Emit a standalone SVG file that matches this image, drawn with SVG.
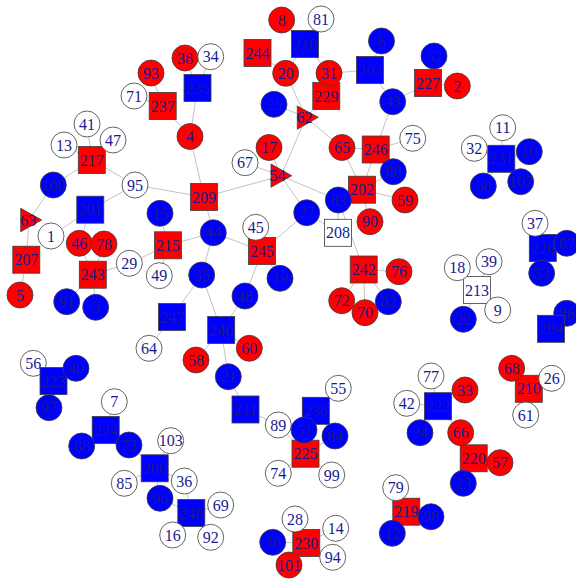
<svg xmlns="http://www.w3.org/2000/svg" width="576" height="579" viewBox="0 0 576 579">
<style>
.e line{stroke:#c4c4c4;stroke-width:1}
circle,rect,polygon{stroke:#3c3c3c;stroke-width:0.8}
.r{fill:#ff0000}.b{fill:#0000ff}.w{fill:#ffffff}
text{font-family:"Liberation Serif","Times New Roman",serif;font-size:16px;fill:#1a1a90;text-anchor:middle}
</style>
<g class="e" id="edges">
<line x1="87" y1="124" x2="91.8" y2="160"/>
<line x1="64" y1="145" x2="91.8" y2="160"/>
<line x1="113" y1="140" x2="91.8" y2="160"/>
<line x1="53.3" y1="185" x2="91.8" y2="160"/>
<line x1="135" y1="185" x2="91.8" y2="160"/>
<line x1="135" y1="185" x2="204" y2="197"/>
<line x1="135" y1="185" x2="90.3" y2="209.7"/>
<line x1="51" y1="236" x2="90.3" y2="209.7"/>
<line x1="79.3" y1="243.3" x2="90.3" y2="209.7"/>
<line x1="53.3" y1="185" x2="29" y2="220"/>
<line x1="29" y1="220" x2="26.3" y2="259.7"/>
<line x1="26.3" y1="259.7" x2="20" y2="295"/>
<line x1="79.3" y1="243.3" x2="92.8" y2="274.7"/>
<line x1="104" y1="244" x2="92.8" y2="274.7"/>
<line x1="129.3" y1="263.3" x2="92.8" y2="274.7"/>
<line x1="129.3" y1="263.3" x2="168" y2="245.3"/>
<line x1="160" y1="213.3" x2="168" y2="245.3"/>
<line x1="159.3" y1="275.7" x2="168" y2="245.3"/>
<line x1="213.3" y1="232.7" x2="168" y2="245.3"/>
<line x1="66.7" y1="301.7" x2="92.8" y2="274.7"/>
<line x1="95.7" y1="307.3" x2="92.8" y2="274.7"/>
<line x1="151" y1="73" x2="162.7" y2="106"/>
<line x1="134" y1="96" x2="162.7" y2="106"/>
<line x1="190" y1="136.5" x2="162.7" y2="106"/>
<line x1="185" y1="58" x2="197.5" y2="88"/>
<line x1="210.7" y1="56.7" x2="197.5" y2="88"/>
<line x1="190" y1="136.5" x2="197.5" y2="88"/>
<line x1="190" y1="136.5" x2="204" y2="197"/>
<line x1="213.3" y1="232.7" x2="204" y2="197"/>
<line x1="281" y1="176" x2="204" y2="197"/>
<line x1="213.3" y1="232.7" x2="201.7" y2="275"/>
<line x1="213.3" y1="232.7" x2="262" y2="251"/>
<line x1="201.7" y1="275" x2="172" y2="317"/>
<line x1="201.7" y1="275" x2="221.2" y2="330"/>
<line x1="172" y1="317" x2="149" y2="348.3"/>
<line x1="221.2" y1="330" x2="245" y2="296"/>
<line x1="221.2" y1="330" x2="228.3" y2="376.7"/>
<line x1="221.2" y1="330" x2="196" y2="360"/>
<line x1="221.2" y1="330" x2="249.3" y2="348.3"/>
<line x1="228.3" y1="376.7" x2="245.5" y2="409.5"/>
<line x1="245.5" y1="409.5" x2="278.3" y2="425"/>
<line x1="278.3" y1="425" x2="305.5" y2="453.7"/>
<line x1="304" y1="430" x2="305.5" y2="453.7"/>
<line x1="335" y1="436" x2="305.5" y2="453.7"/>
<line x1="278.3" y1="473.3" x2="305.5" y2="453.7"/>
<line x1="331.7" y1="475" x2="305.5" y2="453.7"/>
<line x1="304" y1="430" x2="315.8" y2="410.8"/>
<line x1="335" y1="436" x2="315.8" y2="410.8"/>
<line x1="338.3" y1="388.3" x2="315.8" y2="410.8"/>
<line x1="255.7" y1="227.3" x2="262" y2="251"/>
<line x1="280" y1="278.3" x2="262" y2="251"/>
<line x1="245" y1="296" x2="262" y2="251"/>
<line x1="306.7" y1="212.7" x2="262" y2="251"/>
<line x1="281" y1="176" x2="306.7" y2="212.7"/>
<line x1="281" y1="176" x2="338.3" y2="200"/>
<line x1="281" y1="176" x2="306" y2="117.5"/>
<line x1="281" y1="176" x2="269" y2="147.5"/>
<line x1="281" y1="176" x2="245" y2="162.7"/>
<line x1="306" y1="117.5" x2="285.7" y2="73.3"/>
<line x1="306" y1="117.5" x2="274" y2="104.3"/>
<line x1="306" y1="117.5" x2="342" y2="147.5"/>
<line x1="306" y1="117.5" x2="326.3" y2="96"/>
<line x1="305" y1="44" x2="285.7" y2="73.3"/>
<line x1="305" y1="44" x2="329" y2="73.3"/>
<line x1="305" y1="44" x2="281.7" y2="20"/>
<line x1="305" y1="44" x2="321" y2="19"/>
<line x1="257.5" y1="53" x2="285.7" y2="73.3"/>
<line x1="329" y1="73.3" x2="370" y2="70"/>
<line x1="329" y1="73.3" x2="326.3" y2="96"/>
<line x1="370" y1="70" x2="381.5" y2="41"/>
<line x1="370" y1="70" x2="392.7" y2="101.7"/>
<line x1="392.7" y1="101.7" x2="428" y2="83"/>
<line x1="392.7" y1="101.7" x2="375.7" y2="149.5"/>
<line x1="428" y1="83" x2="434" y2="56"/>
<line x1="428" y1="83" x2="457.3" y2="86"/>
<line x1="375.7" y1="149.5" x2="412.7" y2="138.3"/>
<line x1="375.7" y1="149.5" x2="342" y2="147.5"/>
<line x1="375.7" y1="149.5" x2="393.3" y2="171.7"/>
<line x1="375.7" y1="149.5" x2="362" y2="189.7"/>
<line x1="342" y1="147.5" x2="362" y2="189.7"/>
<line x1="362" y1="189.7" x2="338.3" y2="200"/>
<line x1="362" y1="189.7" x2="405" y2="200"/>
<line x1="362" y1="189.7" x2="370" y2="221.7"/>
<line x1="362" y1="189.7" x2="393.3" y2="171.7"/>
<line x1="338.3" y1="200" x2="363.7" y2="269.5"/>
<line x1="338" y1="232.8" x2="306.7" y2="212.7"/>
<line x1="338" y1="232.8" x2="338.3" y2="200"/>
<line x1="363.7" y1="269.5" x2="341.7" y2="300.7"/>
<line x1="363.7" y1="269.5" x2="365" y2="312.7"/>
<line x1="363.7" y1="269.5" x2="388.3" y2="301.7"/>
<line x1="363.7" y1="269.5" x2="399" y2="271.7"/>
<line x1="501.3" y1="158.8" x2="502.7" y2="127.7"/>
<line x1="501.3" y1="158.8" x2="474.3" y2="148.3"/>
<line x1="501.3" y1="158.8" x2="529.3" y2="151.7"/>
<line x1="501.3" y1="158.8" x2="483.3" y2="186"/>
<line x1="501.3" y1="158.8" x2="520.7" y2="181.7"/>
<line x1="542.8" y1="248" x2="535" y2="223.3"/>
<line x1="542.8" y1="248" x2="566.7" y2="243.3"/>
<line x1="542.8" y1="248" x2="541.7" y2="273.3"/>
<line x1="477" y1="290" x2="457.3" y2="267.7"/>
<line x1="477" y1="290" x2="489" y2="261.7"/>
<line x1="477" y1="290" x2="497.7" y2="310"/>
<line x1="477" y1="290" x2="463.3" y2="319.3"/>
<line x1="551" y1="328.8" x2="566.7" y2="313.3"/>
<line x1="528.8" y1="388.8" x2="511.7" y2="368.3"/>
<line x1="528.8" y1="388.8" x2="551.7" y2="378.3"/>
<line x1="528.8" y1="388.8" x2="525.7" y2="415"/>
<line x1="438" y1="406.2" x2="431" y2="376"/>
<line x1="438" y1="406.2" x2="406.7" y2="403.3"/>
<line x1="438" y1="406.2" x2="465" y2="390"/>
<line x1="438" y1="406.2" x2="420" y2="432.7"/>
<line x1="438" y1="406.2" x2="460.7" y2="432.7"/>
<line x1="473.7" y1="458.3" x2="460.7" y2="432.7"/>
<line x1="473.7" y1="458.3" x2="500" y2="462.7"/>
<line x1="473.7" y1="458.3" x2="463.3" y2="483.3"/>
<line x1="406.3" y1="511.7" x2="395.7" y2="487.7"/>
<line x1="406.3" y1="511.7" x2="431" y2="516.7"/>
<line x1="406.3" y1="511.7" x2="392.3" y2="533.3"/>
<line x1="306.3" y1="543" x2="295" y2="519"/>
<line x1="306.3" y1="543" x2="335.7" y2="528.3"/>
<line x1="306.3" y1="543" x2="272.7" y2="542.3"/>
<line x1="306.3" y1="543" x2="332.7" y2="557.3"/>
<line x1="306.3" y1="543" x2="289" y2="565"/>
<line x1="191.3" y1="513" x2="184.3" y2="481"/>
<line x1="191.3" y1="513" x2="172.7" y2="535"/>
<line x1="191.3" y1="513" x2="220.7" y2="505"/>
<line x1="191.3" y1="513" x2="210.7" y2="537.3"/>
<line x1="191.3" y1="513" x2="160" y2="498.3"/>
<line x1="154.7" y1="468.3" x2="170.7" y2="440.7"/>
<line x1="154.7" y1="468.3" x2="129" y2="445"/>
<line x1="154.7" y1="468.3" x2="124.3" y2="483.3"/>
<line x1="154.7" y1="468.3" x2="160" y2="498.3"/>
<line x1="154.7" y1="468.3" x2="184.3" y2="481"/>
<line x1="105.7" y1="430" x2="114.3" y2="401.7"/>
<line x1="105.7" y1="430" x2="81.7" y2="446"/>
<line x1="105.7" y1="430" x2="129" y2="445"/>
<line x1="53.5" y1="381" x2="33.3" y2="363.3"/>
<line x1="53.5" y1="381" x2="76" y2="368.3"/>
<line x1="53.5" y1="381" x2="49" y2="407.7"/>
</g>
<g id="n86"><circle class="b" cx="566.7" cy="313.3" r="13"/><text x="566.7" y="318.8">86</text></g>
<g id="n56"><circle class="w" cx="33.3" cy="363.3" r="13"/><text x="33.3" y="368.8">56</text></g>
<g id="n57"><circle class="r" cx="500" cy="462.7" r="13"/><text x="500" y="468.2">57</text></g>
<g id="n237"><rect class="r" x="149.2" y="92.5" width="27" height="27"/><text x="162.7" y="111.5">237</text></g>
<g id="n235"><rect class="b" x="184" y="74.5" width="27" height="27"/><text x="197.5" y="93.5">235</text></g>
<g id="n218"><rect class="b" x="291.5" y="30.5" width="27" height="27"/><text x="305" y="49.5">218</text></g>
<g id="n244"><rect class="r" x="244" y="39.5" width="27" height="27"/><text x="257.5" y="58.5">244</text></g>
<g id="n203"><rect class="b" x="356.5" y="56.5" width="27" height="27"/><text x="370" y="75.5">203</text></g>
<g id="n229"><rect class="r" x="312.8" y="82.5" width="27" height="27"/><text x="326.3" y="101.5">229</text></g>
<g id="n246"><rect class="r" x="362.2" y="136" width="27" height="27"/><text x="375.7" y="155">246</text></g>
<g id="n227"><rect class="r" x="414.5" y="69.5" width="27" height="27"/><text x="428" y="88.5">227</text></g>
<g id="n217"><rect class="r" x="78.3" y="146.5" width="27" height="27"/><text x="91.8" y="165.5">217</text></g>
<g id="n201"><rect class="b" x="76.8" y="196.2" width="27" height="27"/><text x="90.3" y="215.2">201</text></g>
<g id="n215"><rect class="r" x="154.5" y="231.8" width="27" height="27"/><text x="168" y="250.8">215</text></g>
<g id="n207"><rect class="r" x="12.8" y="246.2" width="27" height="27"/><text x="26.3" y="265.2">207</text></g>
<g id="n243"><rect class="r" x="79.3" y="261.2" width="27" height="27"/><text x="92.8" y="280.2">243</text></g>
<g id="n209"><rect class="r" x="190.5" y="183.5" width="27" height="27"/><text x="204" y="202.5">209</text></g>
<g id="n202"><rect class="r" x="348.5" y="176.2" width="27" height="27"/><text x="362" y="195.2">202</text></g>
<g id="n208"><rect class="w" x="324.5" y="219.3" width="27" height="27"/><text x="338" y="238.3">208</text></g>
<g id="n245"><rect class="r" x="248.5" y="237.5" width="27" height="27"/><text x="262" y="256.5">245</text></g>
<g id="n242"><rect class="r" x="350.2" y="256" width="27" height="27"/><text x="363.7" y="275">242</text></g>
<g id="n231"><rect class="b" x="487.8" y="145.3" width="27" height="27"/><text x="501.3" y="164.3">231</text></g>
<g id="n226"><rect class="b" x="529.3" y="234.5" width="27" height="27"/><text x="542.8" y="253.5">226</text></g>
<g id="n213"><rect class="w" x="463.5" y="276.5" width="27" height="27"/><text x="477" y="295.5">213</text></g>
<g id="n247"><rect class="b" x="158.5" y="303.5" width="27" height="27"/><text x="172" y="322.5">247</text></g>
<g id="n223"><rect class="b" x="40" y="367.5" width="27" height="27"/><text x="53.5" y="386.5">223</text></g>
<g id="n224"><rect class="b" x="92.2" y="416.5" width="27" height="27"/><text x="105.7" y="435.5">224</text></g>
<g id="n240"><rect class="b" x="207.7" y="316.5" width="27" height="27"/><text x="221.2" y="335.5">240</text></g>
<g id="n211"><rect class="b" x="232" y="396" width="27" height="27"/><text x="245.5" y="415">211</text></g>
<g id="n238"><rect class="b" x="302.3" y="397.3" width="27" height="27"/><text x="315.8" y="416.3">238</text></g>
<g id="n204"><rect class="b" x="537.5" y="315.3" width="27" height="27"/><text x="551" y="334.3">204</text></g>
<g id="n210"><rect class="r" x="515.3" y="375.3" width="27" height="27"/><text x="528.8" y="394.3">210</text></g>
<g id="n222"><rect class="b" x="424.5" y="392.7" width="27" height="27"/><text x="438" y="411.7">222</text></g>
<g id="n220"><rect class="r" x="460.2" y="444.8" width="27" height="27"/><text x="473.7" y="463.8">220</text></g>
<g id="n219"><rect class="r" x="392.8" y="498.2" width="27" height="27"/><text x="406.3" y="517.2">219</text></g>
<g id="n206"><rect class="b" x="141.2" y="454.8" width="27" height="27"/><text x="154.7" y="473.8">206</text></g>
<g id="n248"><rect class="b" x="177.8" y="499.5" width="27" height="27"/><text x="191.3" y="518.5">248</text></g>
<g id="n225"><rect class="r" x="292" y="440.2" width="27" height="27"/><text x="305.5" y="459.2">225</text></g>
<g id="n230"><rect class="r" x="292.8" y="529.5" width="27" height="27"/><text x="306.3" y="548.5">230</text></g>
<g id="n62"><polygon class="r" points="297.3,106 318.3,117.3 297.3,129.3"/><text x="304.5" y="123">62</text></g>
<g id="n54"><polygon class="r" points="271,164 291.7,175.7 271,187.3"/><text x="277.5" y="181.2">54</text></g>
<g id="n63"><polygon class="r" points="20.7,208.3 41.7,220 20.7,231.7"/><text x="28.3" y="225.5">63</text></g>
<g id="n93"><circle class="r" cx="151" cy="73" r="13"/><text x="151" y="78.5">93</text></g>
<g id="n38"><circle class="r" cx="185" cy="58" r="13"/><text x="185" y="63.5">38</text></g>
<g id="n71"><circle class="w" cx="134" cy="96" r="13"/><text x="134" y="101.5">71</text></g>
<g id="n4"><circle class="r" cx="190" cy="136.5" r="13"/><text x="190" y="142">4</text></g>
<g id="n41"><circle class="w" cx="87" cy="124" r="13"/><text x="87" y="129.5">41</text></g>
<g id="n13"><circle class="w" cx="64" cy="145" r="13"/><text x="64" y="150.5">13</text></g>
<g id="n47"><circle class="w" cx="113" cy="140" r="13"/><text x="113" y="145.5">47</text></g>
<g id="n8"><circle class="r" cx="281.7" cy="20" r="13"/><text x="281.7" y="25.5">8</text></g>
<g id="n81"><circle class="w" cx="321" cy="19" r="13"/><text x="321" y="24.5">81</text></g>
<g id="n34"><circle class="w" cx="210.7" cy="56.7" r="13"/><text x="210.7" y="62.2">34</text></g>
<g id="n20"><circle class="r" cx="285.7" cy="73.3" r="13"/><text x="285.7" y="78.8">20</text></g>
<g id="n31"><circle class="r" cx="329" cy="73.3" r="13"/><text x="329" y="78.8">31</text></g>
<g id="n6"><circle class="b" cx="381.5" cy="41" r="13"/><text x="381.5" y="46.5">6</text></g>
<g id="n25"><circle class="b" cx="274" cy="104.3" r="13"/><text x="274" y="109.8">25</text></g>
<g id="n17"><circle class="r" cx="269" cy="147.5" r="13"/><text x="269" y="153">17</text></g>
<g id="n65"><circle class="r" cx="342" cy="147.5" r="13"/><text x="342" y="153">65</text></g>
<g id="n43"><circle class="b" cx="392.7" cy="101.7" r="13"/><text x="392.7" y="107.2">43</text></g>
<g id="n52"><circle class="b" cx="434" cy="56" r="13"/><text x="434" y="61.5">52</text></g>
<g id="n2"><circle class="r" cx="457.3" cy="86" r="13"/><text x="457.3" y="91.5">2</text></g>
<g id="n75"><circle class="w" cx="412.7" cy="138.3" r="13"/><text x="412.7" y="143.8">75</text></g>
<g id="n11"><circle class="w" cx="502.7" cy="127.7" r="13"/><text x="502.7" y="133.2">11</text></g>
<g id="n32"><circle class="w" cx="474.3" cy="148.3" r="13"/><text x="474.3" y="153.8">32</text></g>
<g id="n100"><circle class="b" cx="53.3" cy="185" r="13"/><text x="53.3" y="190.5">100</text></g>
<g id="n95"><circle class="w" cx="135" cy="185" r="13"/><text x="135" y="190.5">95</text></g>
<g id="n1"><circle class="w" cx="51" cy="236" r="13"/><text x="51" y="241.5">1</text></g>
<g id="n46"><circle class="r" cx="79.3" cy="243.3" r="13"/><text x="79.3" y="248.8">46</text></g>
<g id="n78"><circle class="r" cx="104" cy="244" r="13"/><text x="104" y="249.5">78</text></g>
<g id="n15"><circle class="b" cx="160" cy="213.3" r="13"/><text x="160" y="218.8">15</text></g>
<g id="n29"><circle class="w" cx="129.3" cy="263.3" r="13"/><text x="129.3" y="268.8">29</text></g>
<g id="n49"><circle class="w" cx="159.3" cy="275.7" r="13"/><text x="159.3" y="281.2">49</text></g>
<g id="n5"><circle class="r" cx="20" cy="295" r="13"/><text x="20" y="300.5">5</text></g>
<g id="n67"><circle class="w" cx="245" cy="162.7" r="13"/><text x="245" y="168.2">67</text></g>
<g id="n80"><circle class="b" cx="393.3" cy="171.7" r="13"/><text x="393.3" y="177.2">80</text></g>
<g id="n83"><circle class="b" cx="338.3" cy="200" r="13"/><text x="338.3" y="205.5">83</text></g>
<g id="n27"><circle class="b" cx="306.7" cy="212.7" r="13"/><text x="306.7" y="218.2">27</text></g>
<g id="n90"><circle class="r" cx="370" cy="221.7" r="13"/><text x="370" y="227.2">90</text></g>
<g id="n44"><circle class="b" cx="213.3" cy="232.7" r="13"/><text x="213.3" y="238.2">44</text></g>
<g id="n45"><circle class="w" cx="255.7" cy="227.3" r="13"/><text x="255.7" y="232.8">45</text></g>
<g id="n35"><circle class="b" cx="201.7" cy="275" r="13"/><text x="201.7" y="280.5">35</text></g>
<g id="n19"><circle class="b" cx="280" cy="278.3" r="13"/><text x="280" y="283.8">19</text></g>
<g id="n59"><circle class="r" cx="405" cy="200" r="13"/><text x="405" y="205.5">59</text></g>
<g id="n76"><circle class="r" cx="399" cy="271.7" r="13"/><text x="399" y="277.2">76</text></g>
<g id="n10"><circle class="b" cx="529.3" cy="151.7" r="13"/><text x="529.3" y="157.2">10</text></g>
<g id="n50"><circle class="b" cx="483.3" cy="186" r="13"/><text x="483.3" y="191.5">50</text></g>
<g id="n102"><circle class="b" cx="520.7" cy="181.7" r="13"/><text x="520.7" y="187.2">102</text></g>
<g id="n37"><circle class="w" cx="535" cy="223.3" r="13"/><text x="535" y="228.8">37</text></g>
<g id="n87"><circle class="b" cx="566.7" cy="243.3" r="13"/><text x="566.7" y="248.8">87</text></g>
<g id="n53"><circle class="b" cx="541.7" cy="273.3" r="13"/><text x="541.7" y="278.8">53</text></g>
<g id="n18"><circle class="w" cx="457.3" cy="267.7" r="13"/><text x="457.3" y="273.2">18</text></g>
<g id="n39"><circle class="w" cx="489" cy="261.7" r="13"/><text x="489" y="267.2">39</text></g>
<g id="n91"><circle class="b" cx="66.7" cy="301.7" r="13"/><text x="66.7" y="307.2">91</text></g>
<g id="n3"><circle class="b" cx="95.7" cy="307.3" r="13"/><text x="95.7" y="312.8">3</text></g>
<g id="n64"><circle class="w" cx="149" cy="348.3" r="13"/><text x="149" y="353.8">64</text></g>
<g id="n58"><circle class="r" cx="196" cy="360" r="13"/><text x="196" y="365.5">58</text></g>
<g id="n40"><circle class="b" cx="76" cy="368.3" r="13"/><text x="76" y="373.8">40</text></g>
<g id="n97"><circle class="b" cx="49" cy="407.7" r="13"/><text x="49" y="413.2">97</text></g>
<g id="n7"><circle class="w" cx="114.3" cy="401.7" r="13"/><text x="114.3" y="407.2">7</text></g>
<g id="n48"><circle class="b" cx="245" cy="296" r="13"/><text x="245" y="301.5">48</text></g>
<g id="n60"><circle class="r" cx="249.3" cy="348.3" r="13"/><text x="249.3" y="353.8">60</text></g>
<g id="n21"><circle class="b" cx="228.3" cy="376.7" r="13"/><text x="228.3" y="382.2">21</text></g>
<g id="n55"><circle class="w" cx="338.3" cy="388.3" r="13"/><text x="338.3" y="393.8">55</text></g>
<g id="n89"><circle class="w" cx="278.3" cy="425" r="13"/><text x="278.3" y="430.5">89</text></g>
<g id="n72"><circle class="r" cx="341.7" cy="300.7" r="13"/><text x="341.7" y="306.2">72</text></g>
<g id="n70"><circle class="r" cx="365" cy="312.7" r="13"/><text x="365" y="318.2">70</text></g>
<g id="n82"><circle class="b" cx="388.3" cy="301.7" r="13"/><text x="388.3" y="307.2">82</text></g>
<g id="n9"><circle class="w" cx="497.7" cy="310" r="13"/><text x="497.7" y="315.5">9</text></g>
<g id="n22"><circle class="b" cx="463.3" cy="319.3" r="13"/><text x="463.3" y="324.8">22</text></g>
<g id="n68"><circle class="r" cx="511.7" cy="368.3" r="13"/><text x="511.7" y="373.8">68</text></g>
<g id="n26"><circle class="w" cx="551.7" cy="378.3" r="13"/><text x="551.7" y="383.8">26</text></g>
<g id="n61"><circle class="w" cx="525.7" cy="415" r="13"/><text x="525.7" y="420.5">61</text></g>
<g id="n77"><circle class="w" cx="431" cy="376" r="13"/><text x="431" y="381.5">77</text></g>
<g id="n33"><circle class="r" cx="465" cy="390" r="13"/><text x="465" y="395.5">33</text></g>
<g id="n42"><circle class="w" cx="406.7" cy="403.3" r="13"/><text x="406.7" y="408.8">42</text></g>
<g id="n66"><circle class="r" cx="460.7" cy="432.7" r="13"/><text x="460.7" y="438.2">66</text></g>
<g id="n24"><circle class="b" cx="420" cy="432.7" r="13"/><text x="420" y="438.2">24</text></g>
<g id="n88"><circle class="b" cx="81.7" cy="446" r="13"/><text x="81.7" y="451.5">88</text></g>
<g id="n73"><circle class="b" cx="129" cy="445" r="13"/><text x="129" y="450.5">73</text></g>
<g id="n103"><circle class="w" cx="170.7" cy="440.7" r="13"/><text x="170.7" y="446.2">103</text></g>
<g id="n85"><circle class="w" cx="124.3" cy="483.3" r="13"/><text x="124.3" y="488.8">85</text></g>
<g id="n36"><circle class="w" cx="184.3" cy="481" r="13"/><text x="184.3" y="486.5">36</text></g>
<g id="n96"><circle class="b" cx="160" cy="498.3" r="13"/><text x="160" y="503.8">96</text></g>
<g id="n16"><circle class="w" cx="172.7" cy="535" r="13"/><text x="172.7" y="540.5">16</text></g>
<g id="n51"><circle class="b" cx="304" cy="430" r="13"/><text x="304" y="435.5">51</text></g>
<g id="n84"><circle class="b" cx="335" cy="436" r="13"/><text x="335" y="441.5">84</text></g>
<g id="n74"><circle class="w" cx="278.3" cy="473.3" r="13"/><text x="278.3" y="478.8">74</text></g>
<g id="n99"><circle class="w" cx="331.7" cy="475" r="13"/><text x="331.7" y="480.5">99</text></g>
<g id="n69"><circle class="w" cx="220.7" cy="505" r="13"/><text x="220.7" y="510.5">69</text></g>
<g id="n92"><circle class="w" cx="210.7" cy="537.3" r="13"/><text x="210.7" y="542.8">92</text></g>
<g id="n28"><circle class="w" cx="295" cy="519" r="13"/><text x="295" y="524.5">28</text></g>
<g id="n14"><circle class="w" cx="335.7" cy="528.3" r="13"/><text x="335.7" y="533.8">14</text></g>
<g id="n30"><circle class="b" cx="272.7" cy="542.3" r="13"/><text x="272.7" y="547.8">30</text></g>
<g id="n94"><circle class="w" cx="332.7" cy="557.3" r="13"/><text x="332.7" y="562.8">94</text></g>
<g id="n101"><circle class="r" cx="289" cy="565" r="13"/><text x="289" y="570.5">101</text></g>
<g id="n23"><circle class="b" cx="463.3" cy="483.3" r="13"/><text x="463.3" y="488.8">23</text></g>
<g id="n79"><circle class="w" cx="395.7" cy="487.7" r="13"/><text x="395.7" y="493.2">79</text></g>
<g id="n98"><circle class="b" cx="431" cy="516.7" r="13"/><text x="431" y="522.2">98</text></g>
<g id="n12"><circle class="b" cx="392.3" cy="533.3" r="13"/><text x="392.3" y="538.8">12</text></g>
</svg>
